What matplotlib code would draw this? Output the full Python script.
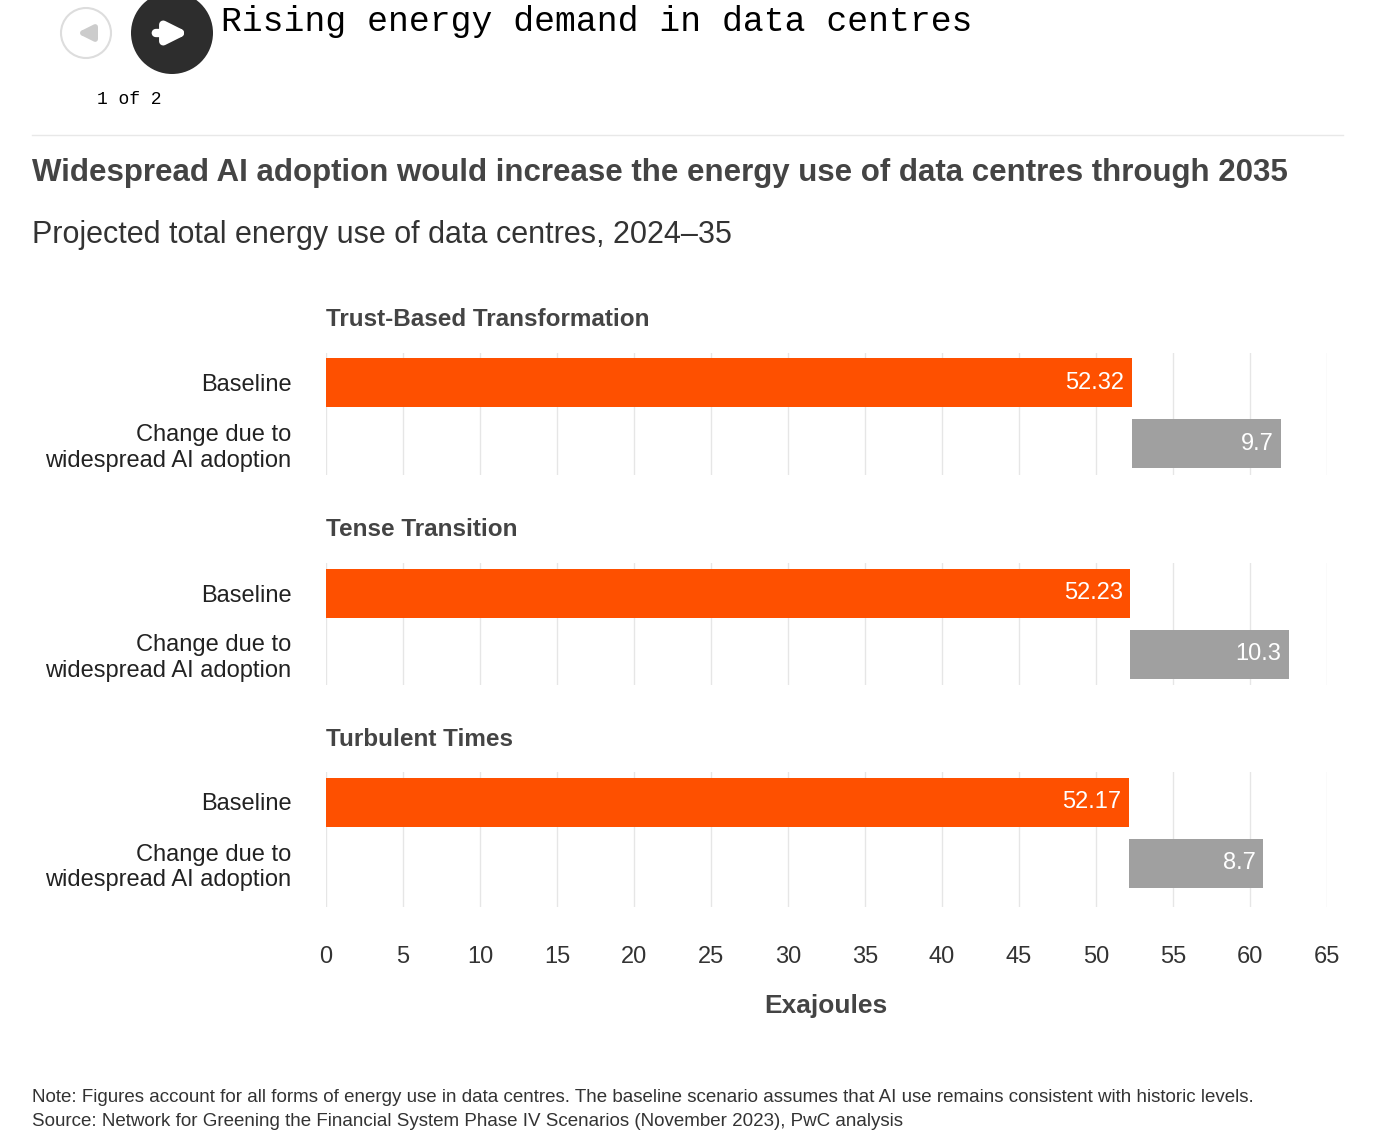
import matplotlib.pyplot as plt
from matplotlib.patches import Circle, FancyArrow

scenarios = ["Trust-Based Transformation", "Tense Transition", "Turbulent Times"]
baseline = [52.32, 52.23, 52.17]
change = [9.7, 10.3, 8.7]
row_labels = ["Baseline", "Change due to\nwidespread AI adoption"]
xticks = list(range(0, 70, 5))

W, H = 1389, 1139
fig = plt.figure(figsize=(W / 100, H / 100), dpi=100)
plt.rcParams['font.family'] = ['Liberation Sans', 'DejaVu Sans']

def fx(px):
    return px / W

def fy(py):
    return 1 - py / H

# navigation header
ov = fig.add_axes([0, 0, 1, 1], zorder=-1)
ov.set_xlim(0, W)
ov.set_ylim(H, 0)
ov.axis('off')
ov.add_patch(Circle((86, 33), 25, facecolor='white', edgecolor='#dddddd', lw=1.5))
ov.annotate('', xy=(74, 33), xytext=(98, 33),
            arrowprops=dict(arrowstyle='-|>', color='#cccccc', lw=4, mutation_scale=22))
ov.add_patch(Circle((172, 33), 41, facecolor='#2d2d2d', edgecolor='none'))
ov.annotate('', xy=(192, 33), xytext=(153, 33),
            arrowprops=dict(arrowstyle='-|>', color='white', lw=6, mutation_scale=30))
ov.text(221, 22, "Rising energy demand in data centres", family='Liberation Mono',
        fontsize=25, va='center', ha='left', color='black')
ov.text(97, 99, "1 of 2", family='Liberation Mono', fontsize=13, va='center', ha='left')
ov.plot([32, 1343], [135, 135], color='#e8e8e8', lw=1)
ov.text(32, 173, "Widespread AI adoption would increase the energy use of data centres through 2035",
        fontsize=22.5, fontweight='bold', color='#444444', va='center')
ov.text(32, 235, "Projected total energy use of data centres, 2024\u201335",
        fontsize=22, color='#333333', va='center')
ov.text(826, 1006, "Exajoules", fontsize=19, fontweight='bold', color='#444444', ha='center', va='center')
ov.text(32, 1097, "Note: Figures account for all forms of energy use in data centres. "
        "The baseline scenario assumes that AI use remains consistent with historic levels.",
        fontsize=13.5, color='#333333', va='center')
ov.text(32, 1121, "Source: Network for Greening the Financial System Phase IV Scenarios (November 2023), PwC analysis",
        fontsize=13.5, color='#333333', va='center')

tops = [353, 563, 772]
x0, x1 = 326, 1327
orange, grey = '#fe5000', '#a0a0a0'
for i, name in enumerate(scenarios):
    top = tops[i]
    bot = top + 122 if i < 2 else 907
    ax = fig.add_axes([fx(x0), fy(bot), fx(x1 - x0), (bot - top) / H])
    ax.set_xlim(0, 65)
    ax.set_ylim(bot - top, 0)
    yb, yc = 30, 91
    ax.barh(yb, baseline[i], height=49, color=orange, zorder=2)
    ax.barh(yc, change[i], left=baseline[i], height=49, color=grey, zorder=2)
    ax.text(baseline[i] - 0.5, yb, f"{baseline[i]:.2f}", color='white', fontsize=17,
            ha='right', va='center', zorder=3)
    ax.text(baseline[i] + change[i] - 0.5, yc, f"{change[i]}", color='white', fontsize=17,
            ha='right', va='center', zorder=3)
    ax.set_xticks(xticks)
    ax.grid(axis='x', color='#e6e6e6', lw=1, zorder=0)
    ax.set_yticks([yb, yc])
    ax.set_yticklabels(row_labels, fontsize=17, color='#222222')
    ax.tick_params(axis='y', length=0, pad=25)
    for s in ax.spines.values():
        s.set_visible(False)
    if i == 2:
        ax.tick_params(axis='x', length=0, labelsize=17, labelcolor='#333333', pad=28)
    else:
        ax.tick_params(axis='x', length=0, labelbottom=False)
    for lab in ax.get_yticklabels():
        lab.set_multialignment('right')
    ov.text(x0, top - 33, name, fontsize=17.5, fontweight='bold', color='#444444', va='center')

fig.savefig('out.png', dpi=100)
